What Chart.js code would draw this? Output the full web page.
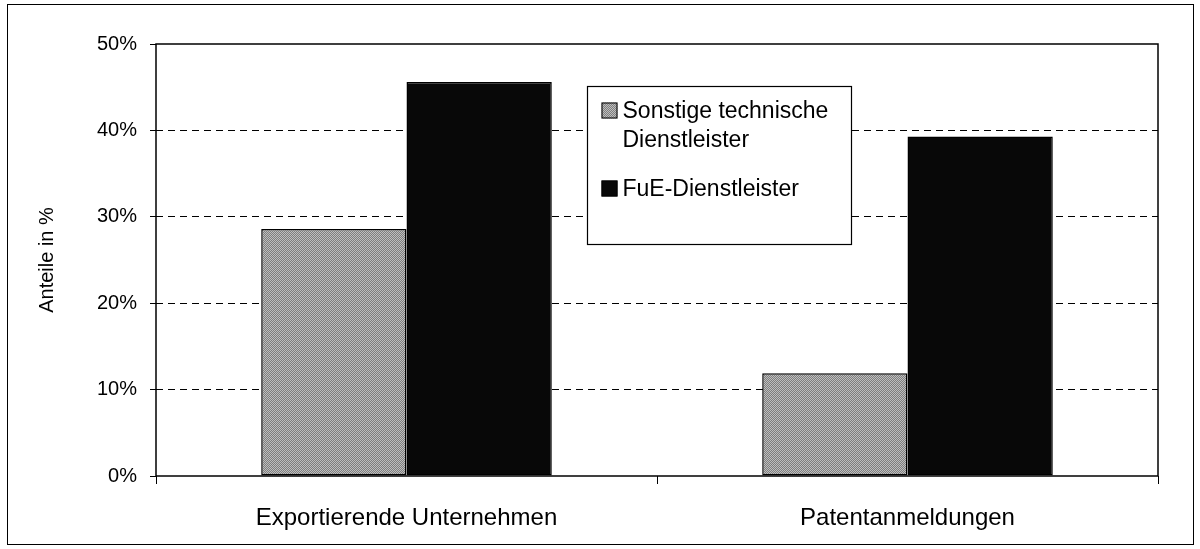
<!DOCTYPE html>
<html>
<head>
<meta charset="utf-8">
<script src="https://cdn.jsdelivr.net/npm/chart.js@4"></script>
<style>
  html, body { margin: 0; padding: 0; background: #fff; }
  #wrap { width: 1200px; height: 549px; position: relative; }
</style>
</head>
<body>
<div id="wrap"><canvas id="shareChart" width="1200" height="549"></canvas></div>
<script>
const categories = ['Exportierende Unternehmen', 'Patentanmeldungen'];
const seriesNames = ['Sonstige technische\nDienstleister', 'FuE-Dienstleister'];
const sonstigeValues = [28.6, 11.9];
const fueValues = [45.6, 39.3];
const yTicks = [0, 10, 20, 30, 40, 50];

const FONT = 'Arial, "Liberation Sans", sans-serif';

// fine grey stipple like the printed halftone
function stipple(a, b) {
    const c = document.createElement('canvas');
    c.width = 2; c.height = 2;
    const g = c.getContext('2d');
    g.fillStyle = a; g.fillRect(0, 0, 2, 2);
    g.fillStyle = b; g.fillRect(0, 0, 1, 1); g.fillRect(1, 1, 1, 1);
    return g.createPattern(c, 'repeat');
}

document.addEventListener('DOMContentLoaded', () => {
    const ctx = document.getElementById('shareChart').getContext('2d');
    const greyFill = stipple('#7e7e7e', '#bebebe');

    // outer frame + plot frame
    const frames = {
        id: 'frames',
        afterDraw(chart) {
            const c = chart.ctx, a = chart.chartArea;
            c.save();
            c.strokeStyle = '#000';
            c.lineWidth = 1;
            c.strokeRect(7.5, 4.5, 1186, 540);
            c.lineWidth = 1.5;
            c.strokeRect(a.left, a.top, a.right - a.left, a.bottom - a.top);
            c.restore();
        }
    };

    // legend box sitting inside the plot
    const boxLegend = {
        id: 'boxLegend',
        afterDraw(chart) {
            const c = chart.ctx;
            const x = 587.5, y = 86.5, w = 264, h = 158;
            c.save();
            c.fillStyle = '#fff';
            c.fillRect(x, y, w, h);
            c.strokeStyle = '#000';
            c.lineWidth = 1.2;
            c.strokeRect(x, y, w, h);
            c.font = '23px ' + FONT;
            c.textBaseline = 'alphabetic';
            let base = y + 31;
            chart.data.datasets.forEach((ds) => {
                const lines = ds.label.split('\n');
                c.fillStyle = ds.backgroundColor;
                c.fillRect(x + 14, base - 15, 16, 16);
                c.strokeStyle = '#000';
                c.lineWidth = 1;
                c.strokeRect(x + 14.5, base - 14.5, 15, 15);
                c.fillStyle = '#000';
                lines.forEach((ln, i) => c.fillText(ln, x + 35, base + i * 29));
                base += lines.length * 29 + 20;
            });
            c.restore();
        }
    };

    new Chart(ctx, {
        type: 'bar',
        data: {
            labels: categories,
            datasets: [{
                label: seriesNames[0],
                data: sonstigeValues,
                backgroundColor: greyFill,
                borderColor: '#000',
                borderWidth: 1.5,
                borderSkipped: false
            }, {
                label: seriesNames[1],
                data: fueValues,
                backgroundColor: '#080808',
                borderColor: '#000',
                borderWidth: 1.5,
                borderSkipped: false
            }]
        },
        options: {
            responsive: false,
            animation: false,
            layout: { padding: { top: 44, right: 42, left: 0, bottom: 0 } },
            datasets: { bar: { categoryPercentage: 0.58, barPercentage: 1 } },
            plugins: {
                legend: { display: false },
                tooltip: { enabled: false }
            },
            scales: {
                x: {
                    afterFit: (s) => { s.height = 73; },
                    grid: {
                        offset: true,
                        drawOnChartArea: false,
                        drawTicks: true,
                        tickLength: 8,
                        tickColor: '#000'
                    },
                    border: { display: false },
                    ticks: {
                        color: '#000',
                        font: { family: FONT, size: 24 },
                        padding: 20
                    }
                },
                y: {
                    min: 0,
                    max: 50,
                    afterFit: (s) => { s.width = 156; },
                    afterBuildTicks: (s) => { s.ticks = yTicks.map(v => ({ value: v })); },
                    grid: {
                        color: (c) => (c.tick && (c.tick.value === 0 || c.tick.value === 50)) ? 'rgba(0,0,0,0)' : '#000',
                        lineWidth: 1,
                        drawTicks: true,
                        tickLength: 6,
                        tickColor: '#000'
                    },
                    border: { display: false, dash: [7, 5] },
                    ticks: {
                        color: '#000',
                        font: { family: FONT, size: 20 },
                        padding: 13,
                        callback: (v) => v + '%'
                    },
                    title: {
                        display: true,
                        text: 'Anteile in %',
                        color: '#000',
                        font: { family: FONT, size: 20 },
                        padding: { top: 35, bottom: 0 }
                    }
                }
            }
        },
        plugins: [frames, boxLegend]
    });
});
</script>
</body>
</html>
